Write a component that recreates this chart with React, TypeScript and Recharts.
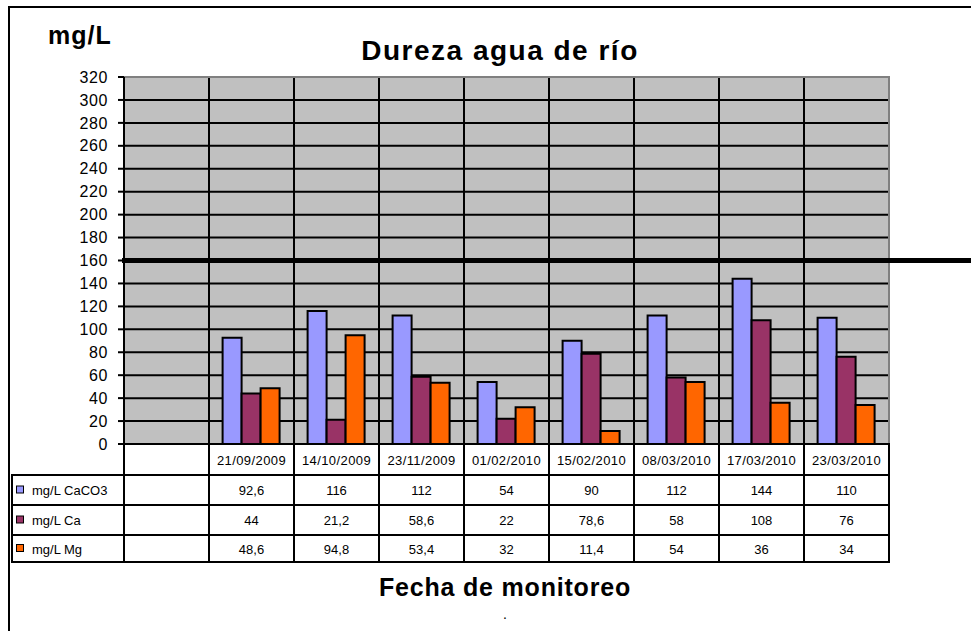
import {
  BarChart,
  Bar,
  XAxis,
  YAxis,
  CartesianGrid,
  ReferenceLine,
  ReferenceArea,
} from "recharts";

const dates = ["", "21/09/2009", "14/10/2009", "23/11/2009", "01/02/2010", "15/02/2010", "08/03/2010", "17/03/2010", "23/03/2010"];
const caco3 = [null, 92.6, 116, 112, 54, 90, 112, 144, 110];
const ca = [null, 44, 21.2, 58.6, 22, 78.6, 58, 108, 76];
const mg = [null, 48.6, 94.8, 53.4, 32, 11.4, 54, 36, 34];
const yTicks = [0, 20, 40, 60, 80, 100, 120, 140, 160, 180, 200, 220, 240, 260, 280, 300, 320];
const limit = 160;

const series = [
  { key: "caco3", name: "mg/L CaCO3", color: "#9999FF", values: caco3 },
  { key: "ca", name: "mg/L Ca", color: "#993366", values: ca },
  { key: "mg", name: "mg/L Mg", color: "#FF6600", values: mg },
];

const data = dates.map((date, i) => ({
  date,
  caco3: caco3[i],
  ca: ca[i],
  mg: mg[i],
}));

const W = 971;
const H = 631;
const margin = { top: 77, right: 82, left: 0, bottom: 69 };
const Y_AXIS_W = 124;
const PLOT_W = W - margin.left - margin.right - Y_AXIS_W;
const BAND = PLOT_W / dates.length;
const FONT = "Arial, 'Liberation Sans', sans-serif";
const rows = [0, 31, 61, 91, 118];

const fmt = (v: number | null) => (v == null ? "" : String(v).replace(".", ","));

function TableTick(props: any) {
  const { x, y, payload, index } = props;
  const left = x - BAND / 2;
  const cells = [];
  for (let r = 0; r < 4; r++) {
    const top = y + rows[r];
    const h = rows[r + 1] - rows[r];
    const text = r === 0 ? payload.value : fmt(series[r - 1].values[index]);
    cells.push(
      <g key={r}>
        <rect x={left} y={top} width={BAND} height={h} fill="#fff" stroke="#000" strokeWidth={2} />
        <text
          x={x}
          y={top + h / 2 + 5}
          textAnchor="middle"
          fontSize={13}
          letterSpacing={r === 0 ? 0.4 : 0}
          fill="#000"
          fontFamily={FONT}
        >
          {text}
        </text>
      </g>
    );
  }
  if (index === 0) {
    series.forEach((s, i) => {
      const top = y + rows[i + 1];
      const h = rows[i + 2] - rows[i + 1];
      cells.push(
        <g key={"leg" + i}>
          <rect x={12} y={top} width={left - 12} height={h} fill="#fff" stroke="#000" strokeWidth={2} />
          <rect x={16.5} y={top + h / 2 - 4} width={7} height={7} fill={s.color} stroke="#000" strokeWidth={1} />
          <text x={32} y={top + h / 2 + 5} fontSize={13} fill="#000" fontFamily={FONT}>
            {s.name}
          </text>
        </g>
      );
    });
  }
  return <g>{cells}</g>;
}

function LimitLine(props: any) {
  const { x1, y1, y2 } = props;
  return <line x1={x1 - 2} y1={y1} x2={W} y2={y2} stroke="#000" strokeWidth={5} />;
}

export default function App() {
  return (
    <div
      style={{
        position: "absolute",
        left: 0,
        top: 0,
        width: W,
        height: H,
        overflow: "hidden",
        background: "#fff",
        fontFamily: FONT,
      }}
    >
      <div
        style={{
          position: "absolute",
          left: 8,
          top: 6,
          width: 1000,
          height: 700,
          border: "2px solid #000",
        }}
      />
      <div style={{ position: "absolute", left: 0, top: 0 }}>
        <BarChart
          width={W}
          height={H}
          data={data}
          margin={margin}
          barCategoryGap="16%"
          barGap={0}
        >
          <CartesianGrid
            fill="#C0C0C0"
            stroke="#000"
            strokeWidth={2}
            verticalCoordinatesGenerator={({ offset }: any) =>
              dates.slice(1).map((_, i) => offset.left + ((i + 1) * offset.width) / dates.length)
            }
          />
          <ReferenceArea y1={0} y2={320} fill="none" stroke="#808080" strokeWidth={2} />
          <XAxis
            dataKey="date"
            height={118}
            interval={0}
            tickSize={0}
            tickMargin={0}
            axisLine={false}
            tickLine={false}
            tick={<TableTick />}
          />
          <YAxis
            width={Y_AXIS_W}
            domain={[0, 320]}
            ticks={yTicks}
            interval={0}
            axisLine={{ stroke: "#000", strokeWidth: 2 }}
            tickLine={{ stroke: "#000", strokeWidth: 2 }}
            tickSize={6}
            tickMargin={10}
            tick={{ fill: "#000", fontSize: 16, fontFamily: FONT, letterSpacing: 0.6 }}
          />
          {series.map((s) => (
            <Bar
              key={s.key}
              dataKey={s.key}
              name={s.name}
              fill={s.color}
              stroke="#000"
              strokeWidth={2}
              isAnimationActive={false}
            />
          ))}
          <ReferenceLine y={limit} shape={<LimitLine />} />
        </BarChart>
      </div>
      <div
        style={{
          position: "absolute",
          left: 48,
          top: 21,
          fontSize: 25,
          fontWeight: "bold",
          letterSpacing: 1,
        }}
      >
        mg/L
      </div>
      <div
        style={{
          position: "absolute",
          left: 0,
          width: 1000,
          top: 35,
          textAlign: "center",
          fontSize: 28,
          fontWeight: "bold",
          letterSpacing: 1.5,
        }}
      >
        Dureza agua de río
      </div>
      <div
        style={{
          position: "absolute",
          left: 0,
          width: 1010,
          top: 573,
          textAlign: "center",
          fontSize: 25,
          fontWeight: "bold",
          letterSpacing: 0.8,
        }}
      >
        Fecha de monitoreo
      </div>
      <div style={{ position: "absolute", left: 503, top: 606, fontSize: 14 }}>.</div>
    </div>
  );
}
